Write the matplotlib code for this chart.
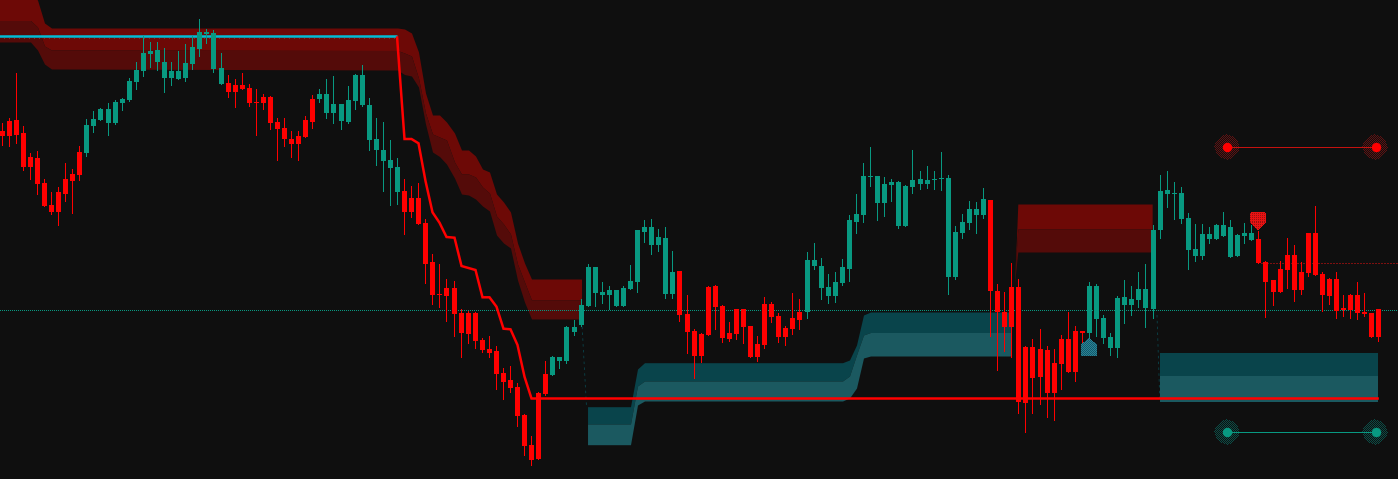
import matplotlib
matplotlib.use('Agg')
import matplotlib.pyplot as plt
import numpy as np
from matplotlib.path import Path

# all y values are chart levels, the axis runs downward
high = [123,118,73,126,153,151,179,192,187,163,169,146,119,111,108,103,100,98,78,62,
	36,42,42,48,62,51,44,36,19,29,30,53,75,79,73,84,89,94,96,118,
	118,131,131,116,95,89,79,76,104,86,74,65,98,118,122,140,158,179,186,183,
	219,254,264,279,281,309,311,312,338,336,346,368,366,383,414,436,392,361,356,357,
	326,320,299,264,267,282,286,290,286,265,230,220,219,229,227,251,271,295,329,333,
	286,285,305,322,309,309,326,336,297,302,313,326,293,299,252,243,258,274,272,259,
	215,194,163,147,176,177,179,181,185,150,171,166,171,152,175,226,214,201,202,188,
	200,284,292,263,279,346,339,329,346,349,335,312,326,331,282,284,315,333,296,280,
	286,272,264,225,175,171,182,187,213,224,224,227,224,212,220,234,223,225,231,261,
	280,261,238,245,262,233,206,272,278,272,295,294,282,293,313,309]
top = [131,121,120,133,157,158,183,205,192,179,174,152,125,119,109,109,102,99,81,70,
	53,51,50,62,71,71,63,47,32,32,33,68,83,85,85,88,102,97,97,122,
	128,139,136,120,99,94,94,104,104,100,75,75,105,139,150,160,167,191,198,198,
	223,262,294,288,288,313,313,313,340,349,351,373,380,387,415,445,393,374,357,357,
	327,327,305,267,267,292,290,290,288,281,230,227,227,237,238,272,271,314,331,334,
	287,286,306,333,309,309,326,344,304,304,316,328,318,312,260,260,266,287,282,267,
	220,214,176,176,176,184,182,182,186,180,179,180,179,178,178,232,222,209,209,199,
	200,291,312,287,287,347,347,349,350,363,339,339,331,331,286,286,318,337,298,297,
	299,289,289,230,191,190,193,193,218,249,234,234,225,225,227,235,233,233,239,262,
	280,269,255,255,272,233,233,274,279,279,308,295,295,312,313,309]
bottom = [136,136,135,167,167,184,206,212,212,194,181,175,153,126,120,123,123,103,100,82,
	71,54,62,78,78,79,78,64,49,34,69,84,92,92,89,103,103,103,123,129,
	139,144,144,137,122,99,113,113,121,122,101,105,140,150,161,168,192,212,212,224,
	264,295,295,296,314,333,334,341,350,353,374,382,388,416,446,460,459,394,375,361,
	361,332,325,306,293,295,295,306,306,289,282,232,245,245,294,294,315,332,356,356,
	335,307,338,339,334,327,357,357,345,317,337,337,329,320,312,266,288,296,296,283,
	269,222,215,177,203,203,185,226,226,187,184,184,180,179,277,277,233,223,215,215,
	291,312,327,327,402,403,378,377,393,393,364,372,372,333,333,319,338,348,348,305,
	305,300,308,309,230,194,194,219,250,256,256,239,239,236,257,256,236,240,263,282,
	292,292,270,290,290,273,275,295,296,311,310,310,313,314,337,337]
low = [145,146,143,170,179,194,206,214,225,201,213,180,156,132,120,135,124,110,101,89,
	76,67,70,92,85,79,81,69,56,43,72,84,97,107,89,106,135,109,129,160,
	146,157,160,137,128,102,118,123,129,123,109,106,150,165,191,205,204,234,217,224,
	283,304,307,321,336,357,343,348,352,357,389,399,392,426,455,465,459,395,375,368,
	363,335,326,306,306,303,309,306,306,289,292,242,254,251,298,298,321,353,378,362,
	335,329,342,341,339,343,357,361,348,322,342,345,334,329,318,269,299,303,302,285,
	281,233,222,186,220,216,201,228,226,193,189,188,189,190,294,279,238,229,233,218,
	336,370,351,357,413,432,413,404,417,420,389,372,381,344,340,336,343,355,357,323,
	315,307,327,318,238,207,219,223,269,261,259,243,239,236,257,256,243,240,263,317,
	305,292,288,301,294,276,275,311,304,318,316,318,319,316,337,341]
# bars that closed up
up_runs = [(12,31),(45,56),(78,95),(114,139),(154,177)]
# bars that sit one pixel further right than the regular spacing
shifted_bars = [15,31,48,64,81,97,114,130,147,163,180]

red_x = [-1,4,5,6,7,56,57,58,59,60,61,62,63,64,65,66,67,68,69,70,71,72,73,74,75,82]
red_top = [-6,-6,0,23,28,28,29,33,52,93,115,115,122,133,150,150,156,169,172,194,202,212,243,263,279,279]
red_mid = [20.5,20.5,27,46,50,50.5,53,56,78,113,134,137,140,162,174,174,177,187,193,216,224,234,264,282,300,300]
red_bot = [42,42,50,64,69,70,74.5,76,87,124,152,156.5,164,178,194,195,199,206,211,235,243,248,280,302,319,319]

teal_x = [82.86,89,90,91,119,120,121,122,123,142.95]
teal_top = [406.7,406.7,369,362.7,362.7,360,345,315,312,312]
teal_mid = [424,424,386,381,381,376,355,335,332.5,332.5]
teal_bot = [444.7,444.7,405,401,401,398,388,358,356,356]

red2_x = [143.4,143.7,143.9,162.95]
red2_top = [285,240,204,204]
red2_mid = [285,250,229,229]
red2_bot = [285,265,252,252]

teal2_x = [163.93,194.96]
teal2_top = [353.3,353.3]
teal2_mid = [376,376]
teal2_bot = [402,402]

# thin specks at the left of the teal blocks
wisp_x = [82,82.7]
wisp_y = [315,405]
wisp2_x = [163.5,163.9]
wisp2_y = [315,400]

stop_x = [-1,55.93]
stop_y = [36.3,36.3]
trail_x = [55.93,57,58,59,60,61,62,63,64,65,66,67,68,69,70,71,72,73,74,75,195.05]
trail_y = [36.3,139,139,143.3,181,212.3,222.7,237,237.7,266,268,270,297.3,297.3,306.7,328.7,329.3,345,376.7,398.5,398.5]

mid_level = 310.2
red_level = 263.2
red_level_from = 178.3
upper_x = [173.57,194.6]
upper_y = [147.2,147.2]
lower_x = [173.57,194.6]
lower_y = [432.2,432.2]
short_sig = (178,222)
long_sig = (154,347)

bg = '#0f0f0f'
green = '#089981'
red = '#ff0000'

def bar_pos(i):
	i = np.asarray(i,dtype=float)
	return i+np.searchsorted(shifted_bars,i,side='right')/7

def stipple(cx,cy,outline,col_a,col_b,grid=False,z=2):
	# pixel texture inside an outline given in pixels around the centre
	outline = np.array(outline,dtype=float)
	half = int(np.abs(outline).max())+1
	dy,dx = np.mgrid[-half:half,-half:half]
	inside = Path(outline).contains_points(np.c_[dx.ravel()+0.5,dy.ravel()+0.5]).reshape(dx.shape)
	if grid:
		pick = (dx%2==0)&(dy%2==0)
	else:
		pick = (dx+dy)%2==0
	img = np.zeros(dx.shape+(4,))
	img[pick] = matplotlib.colors.to_rgba(col_a)
	img[~pick] = matplotlib.colors.to_rgba(col_b)
	img[~inside] = 0
	# keep the texture on whole pixels so it is not resampled
	px = (np.floor(2.5+7*float(bar_pos(cx)))-2.5)/7
	py = np.floor(cy)
	ax.imshow(img,extent=(px-half/7,px+half/7,py+half,py-half),interpolation='nearest',aspect='auto',zorder=z)

n = len(high)
x = bar_pos(np.arange(n))
is_up = np.zeros(n,dtype=bool)
for a,b in up_runs:
	is_up[a:b+1] = True
colors = [green if u else red for u in is_up]

fig = plt.figure(figsize=(13.98,4.79),dpi=100,facecolor=bg)
ax = fig.add_axes([0,0,1,1],facecolor=bg)
ax.axis('off')

for xs,t,m,b,c1,c2 in [(red_x,red_top,red_mid,red_bot,'#6d0906','#540b09'),
		(red2_x,red2_top,red2_mid,red2_bot,'#6d0906','#540b09'),
		(teal_x,teal_top,teal_mid,teal_bot,'#09444b','#1b5960'),
		(teal2_x,teal2_top,teal2_mid,teal2_bot,'#09444b','#1b5960')]:
	ax.fill_between(bar_pos(xs),t,m,color=c1,linewidth=0,zorder=1,antialiased=False)
	ax.fill_between(bar_pos(xs),m,b,color=c2,linewidth=0,zorder=1,antialiased=False)

ax.plot(bar_pos(wisp_x),wisp_y,color='#09444b',lw=0.6,linestyle=(0,(3,4)),zorder=1)
ax.plot(bar_pos(wisp2_x),wisp2_y,color='#09444b',lw=0.6,linestyle=(0,(3,4)),zorder=1)

ax.axhline(mid_level,color=green,lw=0.72,linestyle=(0,(1,2)),antialiased=False,zorder=2)
ax.plot(bar_pos([red_level_from,197.8]),[red_level,red_level],color='#7d1010',lw=0.72,linestyle=(0,(2,2)),antialiased=False,zorder=2)
ax.plot(bar_pos(stop_x),[y+2 for y in stop_y],color='#8a2a20',lw=0.72,linestyle=(0,(1,5)),antialiased=False,zorder=2)
ax.plot(bar_pos(stop_x),stop_y,color='#00bcd4',lw=1.8,solid_capstyle='butt',zorder=3)

# wicks snap to the pixel column on the right of a half-pixel centre, so nudge them left
ax.vlines(x-0.02,high,low,colors=colors,lw=0.72,antialiased=False,zorder=4)
ax.bar(x,np.array(bottom)-np.array(top),bottom=top,width=5/7,color=colors,linewidth=0,zorder=5,antialiased=False)

ax.plot(bar_pos(trail_x),trail_y,color=red,lw=1.8,solid_joinstyle='miter',solid_capstyle='butt',zorder=6)

# level boxes on the right
glow = [(0,-13),(5,-11),(11,-5),(13,0),(11,5),(5,11),(0,13),(-5,11),(-11,5),(-13,0),(-11,-5),(-5,-11)]
shield = [(-6,-9),(6,-9),(7.5,-7.5),(7.5,1),(0,9),(-7.5,1),(-7.5,-7.5)]
house = [(0,-9),(7.5,-3),(7.5,9),(-7.5,9),(-7.5,-3)]
ax.plot(bar_pos(upper_x),upper_y,color='#c4120f',lw=0.72,antialiased=False,zorder=3)
ax.plot(bar_pos(lower_x),lower_y,color=green,lw=0.72,antialiased=False,zorder=3)
for gx,gy in zip(upper_x,upper_y):
	stipple(gx,gy,glow,'#5e1212','#00000000')
for gx,gy in zip(lower_x,lower_y):
	stipple(gx,gy,glow,'#0b4c46','#00000000')
ax.scatter(bar_pos(upper_x),upper_y,s=46,marker='o',color=red,linewidths=0,zorder=4)
ax.scatter(bar_pos(lower_x),lower_y,s=46,marker='o',color=green,linewidths=0,zorder=4)
stipple(short_sig[0],short_sig[1],shield,'#9a1010','#e81212',grid=True,z=7)
stipple(long_sig[0],long_sig[1],house,'#14586a','#2a8496',z=7)

# 7 pixels per bar, first bar on pixel column 2
ax.set_xlim(-2.5/7,(1398-2.5)/7)
ax.set_ylim(479,0)
fig.savefig('out.png',dpi=100,facecolor=bg)
